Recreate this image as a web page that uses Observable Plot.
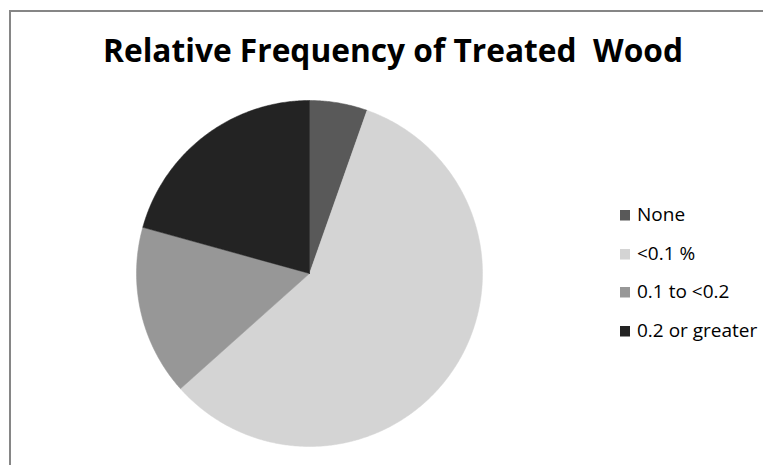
<!DOCTYPE html>
<html><head><meta charset="utf-8">
<script src="https://cdn.jsdelivr.net/npm/d3@7"></script>
<script src="https://cdn.jsdelivr.net/npm/@observablehq/plot@0.6"></script>
<style>
html,body{margin:0;padding:0;background:#fff;overflow:hidden;width:763px;height:465px}
#wrap{position:relative;width:763px;height:465px;overflow:hidden}
#ftop{position:absolute;left:9px;top:10px;width:754px;height:2px;background:#868686}
#fleft{position:absolute;left:9px;top:10px;width:2px;height:455px;background:#868686}
#chart{position:absolute;left:0;top:0}
#overlay{position:absolute;left:0;top:0}
</style>
</head><body>
<div id="wrap"><div id="ftop"></div><div id="fleft"></div><div id="chart"></div><svg id="overlay" width="763" height="465"></svg></div>
<script>
const categories = ["None", "<0.1 %", "0.1 to <0.2", "0.2 or greater"];
const values = [5.4, 58.0, 15.9, 20.7];
const colors = ["#595959", "#d4d4d4", "#979797", "#232323"];
const title = "Relative Frequency of Treated  Wood";

// slice polygons on the unit circle, clockwise from 12 o'clock
const total = d3.sum(values);
const pts = [];
let start = 0;
categories.forEach((c, i) => {
  const a0 = start, a1 = start + values[i] / total * 2 * Math.PI;
  start = a1;
  pts.push({cat: c, x: 0, y: 0});
  const n = Math.max(2, Math.ceil((a1 - a0) / (Math.PI / 360)));
  for (let k = 0; k <= n; k++) {
    const a = a0 + (a1 - a0) * k / n;
    pts.push({cat: c, x: Math.sin(a), y: Math.cos(a)});
  }
  pts.push({cat: c, x: 0, y: 0});
});

const W = 763, H = 465, cx = 309, cy = 273, R = 173;
const chart = Plot.plot({
  width: W, height: H, margin: 0,
  x: {domain: [-cx / R, (W - cx) / R], range: [0, W], axis: null},
  y: {domain: [-(H - cy) / R, cy / R], range: [H, 0], axis: null},
  color: {domain: categories, range: colors},
  style: {background: "transparent"},
  marks: [
    Plot.line(pts, {x: "x", y: "y", z: "cat", fill: "cat", stroke: "cat", strokeWidth: 0.5, curve: "linear"})
  ]
});
document.getElementById("chart").appendChild(chart);

const svg = d3.select("#overlay");
svg.append("text").attr("x", 103).attr("y", 62)
  .attr("textLength", 580).attr("lengthAdjust", "spacingAndGlyphs")
  .style("white-space", "pre")
  .attr("font-family", "'Open Sans', sans-serif").attr("font-weight", 700).attr("font-size", 32)
  .attr("fill", "#000").text(title);

const baselines = [221, 260, 298, 337];
categories.forEach((c, i) => {
  svg.append("rect").attr("x", 620).attr("y", baselines[i] - 11).attr("width", 10).attr("height", 10.5).attr("fill", colors[i]);
  svg.append("text").attr("x", 637).attr("y", baselines[i])
    .attr("font-family", "'Open Sans', sans-serif").attr("font-size", 19).attr("fill", "#000").text(c);
});
</script>
</body></html>
